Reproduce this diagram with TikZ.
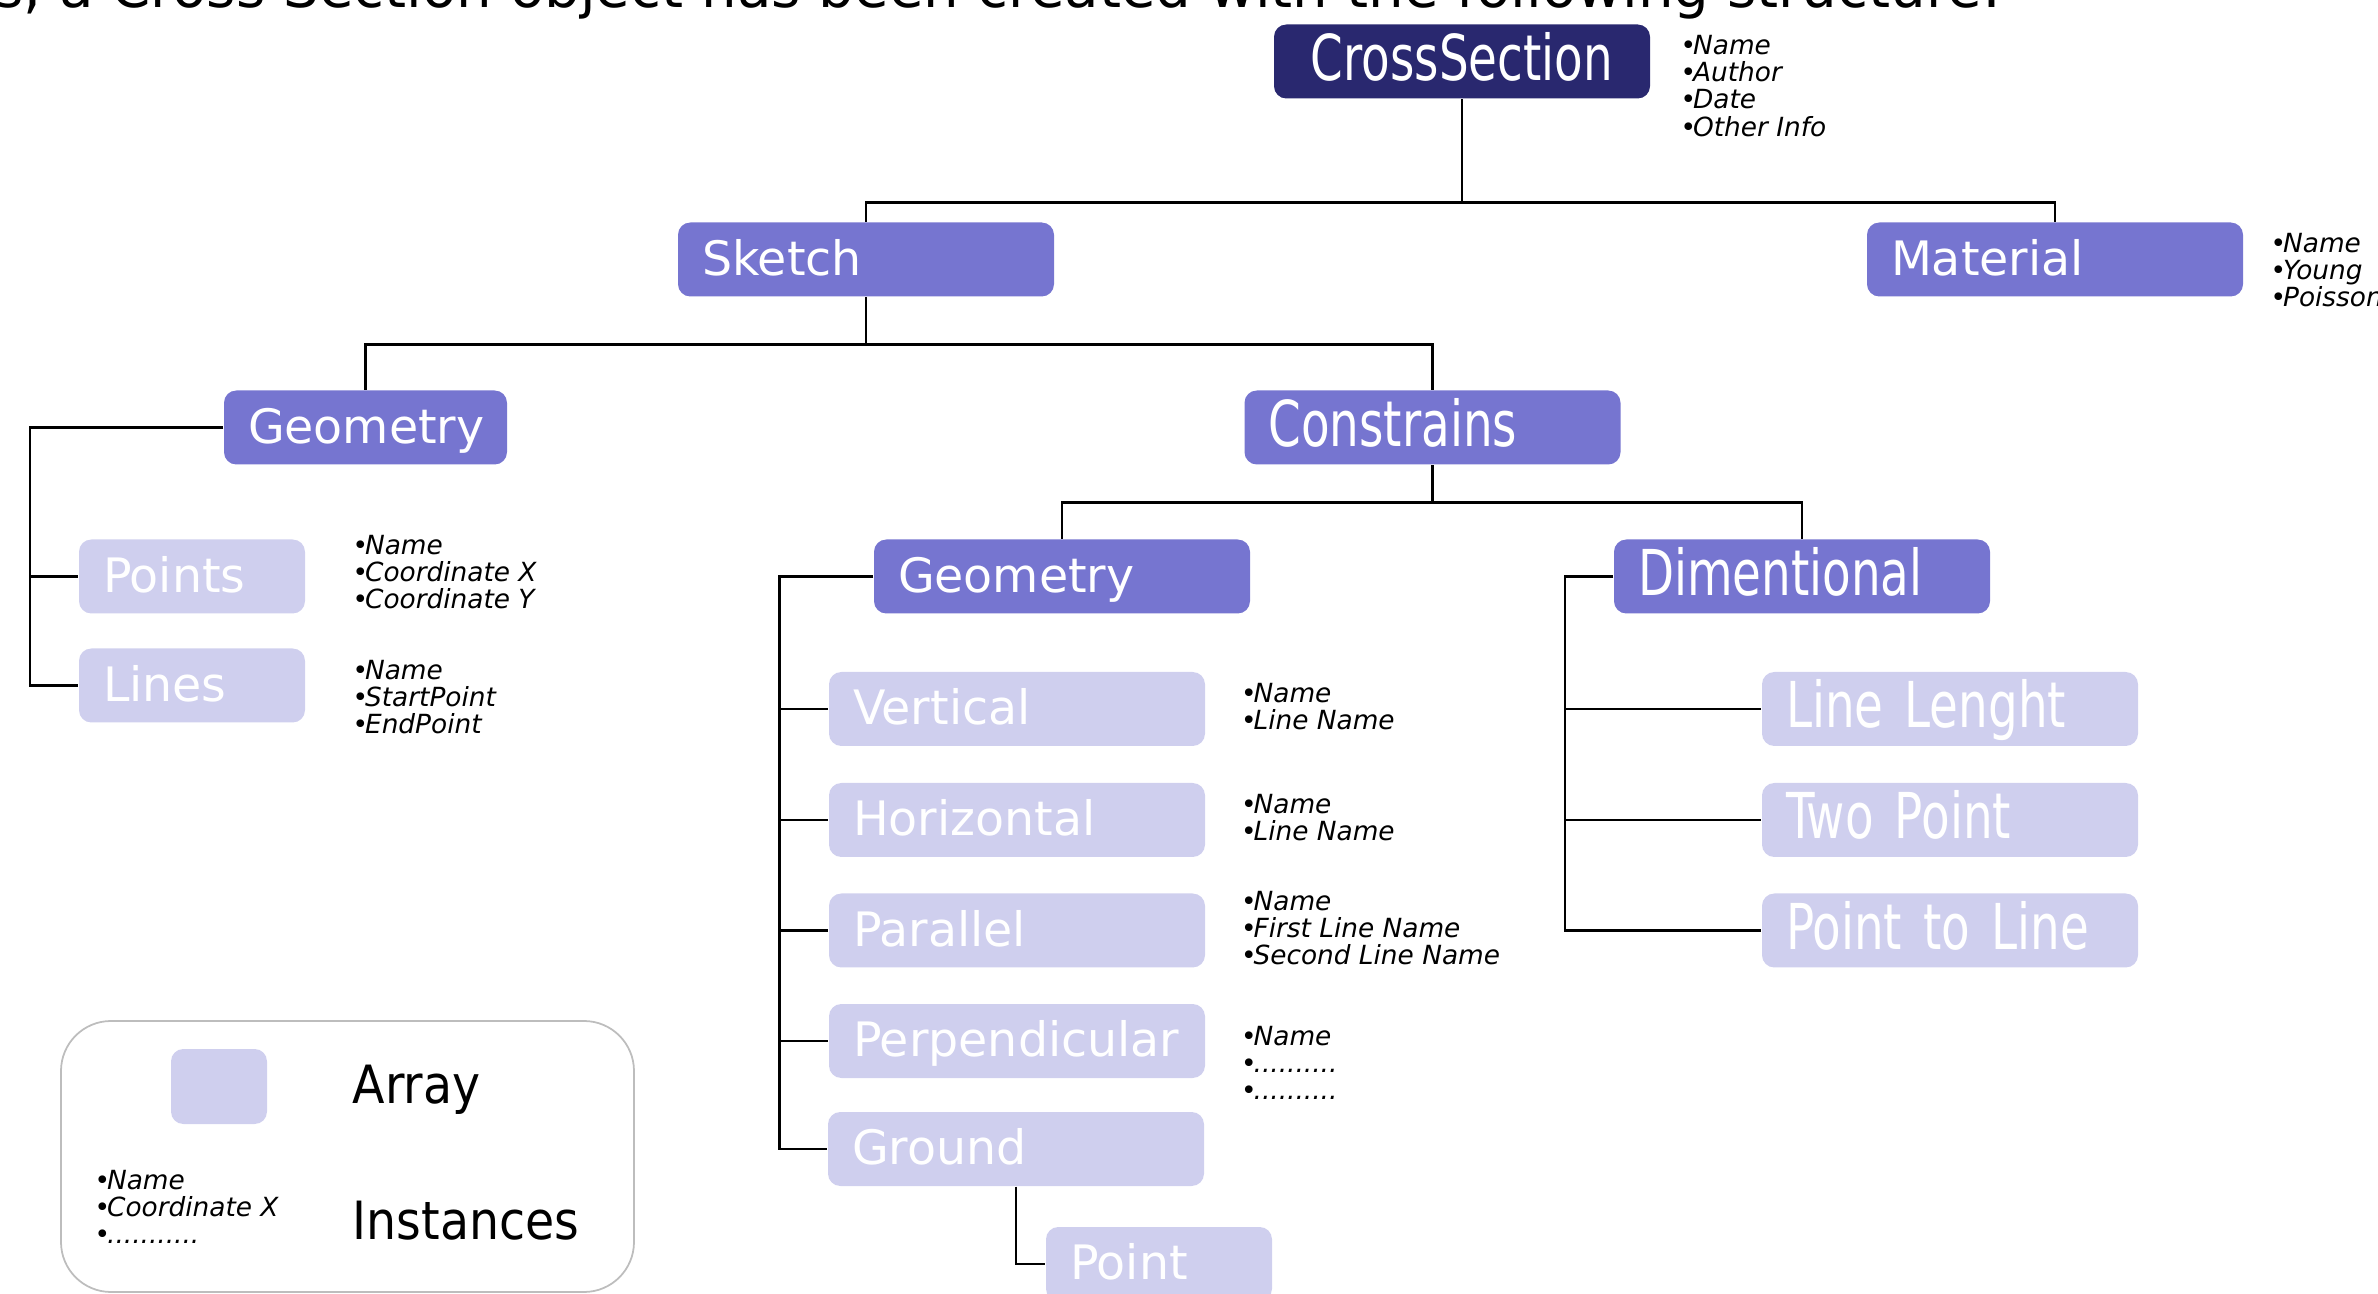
\documentclass[tikz,border=0pt]{standalone}
\usepackage{fontspec}
\setmainfont{DejaVu Sans}[ItalicFont=DejaVu Sans Oblique]
\newfontfamily\condfont[FakeStretch=0.74]{DejaVu Sans}
\newfontfamily\legfont[FakeStretch=0.9]{DejaVu Sans}
\definecolor{topfill}{HTML}{29286F}
\definecolor{midfill}{HTML}{7675D0}
\definecolor{leaffill}{HTML}{CFCFEE}
\definecolor{legline}{HTML}{BDBDBD}
\newcommand\bl{•\kern-0.12em}

\begin{document}
\begin{tikzpicture}[
  box/.style={rounded corners=3.5pt, text=white, align=left, inner xsep=0.24cm, inner ysep=0pt,
              minimum width=3.76cm, text width=3.28cm, minimum height=0.74cm,
              font=\fontsize{13.5}{16}\selectfont, text height=9.6pt, text depth=0.7pt},
  narrowtxt/.style={font=\condfont\fontsize{18}{20}\selectfont, text height=11.2pt, text depth=0.4pt},
  topbox/.style={box, narrowtxt, fill=topfill, align=center},
  midbox/.style={box, fill=midfill},
  leafbox/.style={box, fill=leaffill},
  shortbox/.style={minimum width=2.26cm, text width=1.78cm},
  attrlist/.style={anchor=west, inner sep=0pt, align=left, font=\fontsize{7.5}{7.7}\selectfont\itshape},
  legtxt/.style={anchor=west, inner sep=0pt, font=\legfont\fontsize{15}{18}\selectfont},
  link/.style={line width=0.75pt}]
\useasboundingbox (0,0) rectangle (23.78,-12.94);
\clip (0,0) rectangle (23.78,-12.94);
% ---------------- heading line (cut by the top edge)
\node[anchor=base east, inner sep=0pt, font=\fontsize{16}{19}\selectfont] (intro) at (20.02,-0.08)
      {s, a Cross Section object has been created with the following structure:};
% ---------------- tree nodes (absolute positions, cm)
\node[topbox] (cs) at (14.62,-0.615) {CrossSection};
\node[midbox] (sk)  at (8.66,-2.595)  {Sketch};
\node[midbox] (mat) at (20.55,-2.595) {Material};
\node[midbox, minimum width=2.83cm, text width=2.35cm] (geo) at (3.655,-4.275) {Geometry};
\node[midbox, narrowtxt] (cons) at (14.325,-4.275) {Constrains};
\node[leafbox, shortbox] (pts) at (1.92,-5.765) {Points};
\node[leafbox, shortbox] (lin) at (1.92,-6.855) {Lines};
\node[midbox] (geoc) at (10.62,-5.765) {Geometry};
\node[midbox, narrowtxt] (dim) at (18.02,-5.765) {Dimentional};
\node[leafbox] (vert) at (10.17,-7.09)  {Vertical};
\node[leafbox] (hor)  at (10.17,-8.20)  {Horizontal};
\node[leafbox] (par)  at (10.17,-9.305) {Parallel};
\node[leafbox] (perp) at (10.17,-10.41) {Perpendicular};
\node[leafbox] (gnd)  at (10.16,-11.49) {Ground};
\node[leafbox, shortbox] (pt) at (11.59,-12.64) {Point};
\node[leafbox, narrowtxt] (len) at (19.50,-7.09)  {Line Lenght};
\node[leafbox, narrowtxt] (two) at (19.50,-8.20)  {Two Point};
\node[leafbox, narrowtxt] (ptl) at (19.50,-9.305) {Point to Line};
% ---------------- attribute lists
\node[attrlist] (csatt)   at (16.80,-0.86)  {\bl Name\\\bl Author\\\bl Date\\\bl Other Info};
\node[attrlist] (matatt)  at (22.70,-2.70)  {\bl Name\\\bl Young\\\bl Poisson};
\node[attrlist] (ptsatt)  at (3.52,-5.72)   {\bl Name\\\bl Coordinate X\\\bl Coordinate Y};
\node[attrlist] (linatt)  at (3.52,-6.975)  {\bl Name\\\bl StartPoint\\\bl EndPoint};
\node[attrlist] (vertatt) at (12.405,-7.07) {\bl Name\\\bl Line Name};
\node[attrlist] (horatt)  at (12.405,-8.175) {\bl Name\\\bl Line Name};
\node[attrlist] (paratt)  at (12.405,-9.28) {\bl Name\\\bl First Line Name\\\bl Second Line Name};
\node[attrlist] (perpatt) at (12.405,-10.63) {\bl Name\\\bl ..........\\\bl ..........};
% ---------------- edges
\draw[link] (cs.south) -- ++(0,-1.03) coordinate (b0);
\draw[link] (sk.north) |- (b0) -| (mat.north);
\draw[link] (sk.south) -- ++(0,-0.475) coordinate (b1);
\draw[link] (geo.north) |- (b1) -| (cons.north);
\draw[link] (cons.south) -- ++(0,-0.375) coordinate (b2);
\draw[link] (geoc.north) |- (b2) -| (dim.north);
\coordinate (s1) at (0.30,0);
\coordinate (s2) at (7.795,0);
\coordinate (s3) at (15.65,0);
\draw[link] (geo.west) -| (s1 |- lin.west) -- (lin.west);
\draw[link] (s1 |- pts.west) -- (pts.west);
\draw[link] (geoc.west) -| (s2 |- gnd.west) -- (gnd.west);
\foreach \n in {vert,hor,par,perp}
  \draw[link] (s2 |- \n.west) -- (\n.west);
\draw[link] (dim.west) -| (s3 |- ptl.west) -- (ptl.west);
\foreach \n in {len,two}
  \draw[link] (s3 |- \n.west) -- (\n.west);
\draw[link] (gnd.south) |- (pt.west);
% ---------------- legend
\node[draw=legline, line width=0.5pt, rounded corners=0.5cm, minimum width=5.73cm, minimum height=2.71cm] (leg) at (3.475,-11.565) {};
\node[fill=leaffill, rounded corners=3.5pt, minimum width=0.96cm, minimum height=0.75cm] (arr) at (2.19,-10.865) {};
\node[legtxt] (arrlbl) at (3.52,-10.90) {Array};
\node[attrlist] (instatt) at (0.94,-12.07) {\bl Name\\\bl Coordinate X\\\bl ...........};
\node[legtxt] (inst) at (3.52,-12.21) {Instances};
\end{tikzpicture}
\end{document}
